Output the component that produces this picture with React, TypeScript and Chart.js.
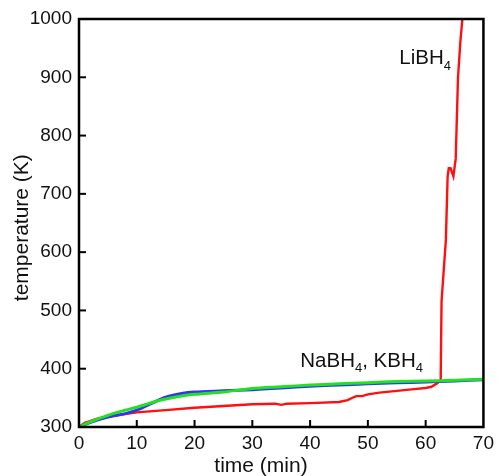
import React, { useEffect, useRef } from "react";
import { Chart, registerables } from "chart.js";

Chart.register(...registerables);

// LiBH4 (red)
const liTime = [0, 1, 3, 5, 8, 10, 15, 20, 25, 30, 34, 35, 36, 40, 45, 46.5, 47.5, 48, 49, 50, 52, 55, 58, 60, 61, 62, 62.6, 62.75, 63.1, 63.5, 63.8, 64, 64.3, 64.8, 65.2, 65.6, 66.0, 66.4];
const liTemp = [300, 307, 314, 318, 322, 325, 329, 333, 336, 339, 340, 338, 340, 341, 343, 346, 351, 353, 353, 356, 359, 362, 365, 367, 369, 375, 380, 515, 565, 621, 729, 744, 744, 730, 760, 900, 960, 1005];

// NaBH4 (blue)
const naTime = [0, 2, 5, 8, 10, 12, 15, 18, 20, 25, 30, 35, 40, 45, 50, 55, 60, 65, 70];
const naTemp = [300, 308, 317, 323, 329, 338, 351, 358, 360, 362, 364, 367, 370, 372, 374, 376, 377, 379, 381];

// KBH4 (green)
const kTime = [0, 2, 5, 8, 10, 12, 14, 17, 20, 25, 30, 35, 40, 45, 50, 55, 60, 65, 70];
const kTemp = [300, 309, 320, 329, 334, 340, 346, 352, 356, 360, 366, 369, 372, 374, 376, 378, 379, 380, 382];

const xTicks = [0, 10, 20, 30, 40, 50, 60, 70];
const yTicks = [300, 400, 500, 600, 700, 800, 900, 1000];

const xTitle = "time (min)";
const yTitle = "temperature (K)";

const FONT = "'Liberation Sans', Arial, Helvetica, sans-serif";

const toPts = (xs: number[], ys: number[]) => xs.map((x, i) => ({ x, y: ys[i] }));

function drawChem(ctx: CanvasRenderingContext2D, parts: [string, boolean][], x: number, y: number, size: number) {
  let cx = x;
  ctx.textAlign = "left";
  ctx.textBaseline = "alphabetic";
  for (const [t, sub] of parts) {
    if (sub) {
      ctx.font = `${Math.round(size * 0.65)}px ${FONT}`;
      ctx.fillText(t, cx, y + size * 0.28);
    } else {
      ctx.font = `${size}px ${FONT}`;
      ctx.fillText(t, cx, y);
    }
    cx += ctx.measureText(t).width;
  }
}

const framePlugin = {
  id: "frame",
  afterDatasetsDraw(chart: any) {
    const { ctx, chartArea, scales } = chart;
    const { left, right, top, bottom } = chartArea;
    const xs = scales.x;
    const ys = scales.y;
    ctx.save();
    ctx.strokeStyle = "#000";
    ctx.lineWidth = 2.5;
    ctx.strokeRect(left, top, right - left, bottom - top);
    ctx.lineWidth = 2;
    const tl = 7;
    for (const v of xTicks.slice(1, -1)) {
      const p = xs.getPixelForValue(v);
      ctx.beginPath();
      ctx.moveTo(p, bottom);
      ctx.lineTo(p, bottom - tl);
      ctx.stroke();
    }
    for (const v of yTicks.slice(1, -1)) {
      const p = ys.getPixelForValue(v);
      ctx.beginPath();
      ctx.moveTo(left, p);
      ctx.lineTo(left + tl, p);
      ctx.stroke();
    }
    ctx.fillStyle = "#111";
    // annotations
    drawChem(ctx, [["LiBH", false], ["4", true]], xs.getPixelForValue(55.45), ys.getPixelForValue(922), 20.5);
    drawChem(ctx, [["NaBH", false], ["4", true], [", KBH", false], ["4", true]], xs.getPixelForValue(38.3), ys.getPixelForValue(403.4), 20.5);
    // axis titles
    ctx.font = `21px ${FONT}`;
    ctx.textAlign = "center";
    ctx.textBaseline = "alphabetic";
    ctx.fillText(xTitle, xs.getPixelForValue(31.5), 472);
    ctx.save();
    ctx.translate(28, ys.getPixelForValue(642));
    ctx.rotate(-Math.PI / 2);
    ctx.fillText(yTitle, 0, 0);
    ctx.restore();
    ctx.restore();
  },
};

export default function App() {
  const ref = useRef<HTMLCanvasElement>(null);
  useEffect(() => {
    if (!ref.current) return;
    const chart = new Chart(ref.current, {
      type: "line",
      data: {
        datasets: [
          {
            label: "KBH4",
            data: toPts(kTime, kTemp),
            borderColor: "#22e022",
            borderWidth: 3,
            pointRadius: 0,
            tension: 0.3,
          },
          {
            label: "NaBH4",
            data: toPts(naTime, naTemp),
            borderColor: "#3434f0",
            borderWidth: 3,
            pointRadius: 0,
            tension: 0.3,
          },
          {
            label: "LiBH4",
            data: toPts(liTime, liTemp),
            borderColor: "#ff1010",
            borderWidth: 2.4,
            pointRadius: 0,
            tension: 0,
          },
        ],
      },
      options: {
        animation: false,
        responsive: false,
        layout: { padding: { top: 19, right: 11, left: 0, bottom: 0 } },
        plugins: { legend: { display: false }, tooltip: { enabled: false } },
        scales: {
          x: {
            type: "linear",
            min: 0,
            max: 70,
            afterFit: (s: any) => {
              s.height = 49;
            },
            afterBuildTicks: (s: any) => {
              s.ticks = xTicks.map((v) => ({ value: v }));
            },
            grid: { display: false, drawTicks: false },
            border: { display: false },
            ticks: { padding: 5, color: "#111", font: { family: FONT, size: 19 }, maxRotation: 0, callback: (v: any) => String(v) },
          },
          y: {
            type: "linear",
            min: 300,
            max: 1000,
            afterFit: (s: any) => {
              s.width = 79;
            },
            afterBuildTicks: (s: any) => {
              s.ticks = yTicks.map((v) => ({ value: v }));
            },
            grid: { display: false, drawTicks: false },
            border: { display: false },
            ticks: { padding: 7, color: "#111", font: { family: FONT, size: 19 }, callback: (v: any) => String(v) },
          },
        },
      },
      plugins: [framePlugin],
    });
    return () => chart.destroy();
  }, []);
  return (
    <div style={{ position: "fixed", left: 0, top: 0, width: 499, height: 476, background: "#fff" }}>
      <canvas ref={ref} width={499} height={476} style={{ display: "block" }} />
    </div>
  );
}
